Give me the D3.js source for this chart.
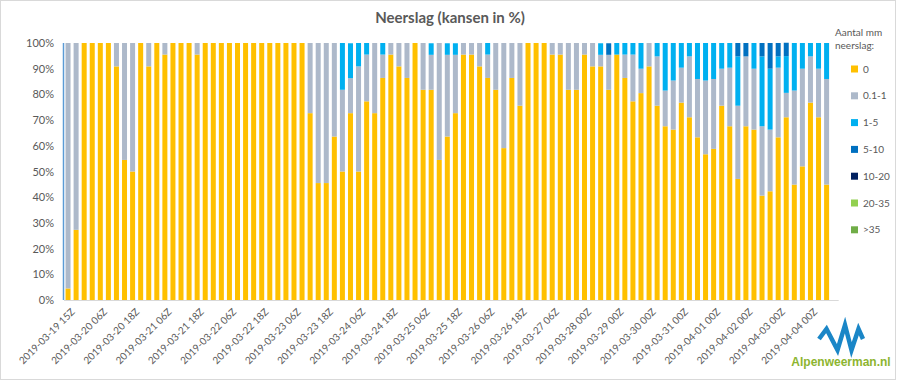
<!DOCTYPE html>
<html>
<head>
<meta charset="utf-8">
<script src="https://cdn.jsdelivr.net/npm/d3@7"></script>
<style>
  html, body { margin: 0; padding: 0; background: #fff; }
  svg { display: block; font-family: Lato, "Open Sans", sans-serif; }
</style>
</head>
<body>
<svg id="chart" width="900" height="381"></svg>
<script>
// ---------- DATA ----------
const categories = [
  "2019-03-19 15Z","2019-03-19 21Z","2019-03-20 00Z","2019-03-20 03Z",
  "2019-03-20 06Z","2019-03-20 09Z","2019-03-20 12Z","2019-03-20 15Z",
  "2019-03-20 18Z","2019-03-20 21Z","2019-03-21 00Z","2019-03-21 03Z",
  "2019-03-21 06Z","2019-03-21 09Z","2019-03-21 12Z","2019-03-21 15Z",
  "2019-03-21 18Z","2019-03-21 21Z","2019-03-22 00Z","2019-03-22 03Z",
  "2019-03-22 06Z","2019-03-22 09Z","2019-03-22 12Z","2019-03-22 15Z",
  "2019-03-22 18Z","2019-03-22 21Z","2019-03-23 00Z","2019-03-23 03Z",
  "2019-03-23 06Z","2019-03-23 09Z","2019-03-23 12Z","2019-03-23 15Z",
  "2019-03-23 18Z","2019-03-23 21Z","2019-03-24 00Z","2019-03-24 03Z",
  "2019-03-24 06Z","2019-03-24 09Z","2019-03-24 12Z","2019-03-24 15Z",
  "2019-03-24 18Z","2019-03-24 21Z","2019-03-25 00Z","2019-03-25 03Z",
  "2019-03-25 06Z","2019-03-25 09Z","2019-03-25 12Z","2019-03-25 15Z",
  "2019-03-25 18Z","2019-03-25 21Z","2019-03-26 00Z","2019-03-26 03Z",
  "2019-03-26 06Z","2019-03-26 09Z","2019-03-26 12Z","2019-03-26 15Z",
  "2019-03-26 18Z","2019-03-26 21Z","2019-03-27 00Z","2019-03-27 03Z",
  "2019-03-27 06Z","2019-03-27 09Z","2019-03-27 12Z","2019-03-27 18Z",
  "2019-03-28 00Z","2019-03-28 06Z","2019-03-28 12Z","2019-03-28 18Z",
  "2019-03-29 00Z","2019-03-29 06Z","2019-03-29 12Z","2019-03-29 18Z",
  "2019-03-30 00Z","2019-03-30 06Z","2019-03-30 12Z","2019-03-30 18Z",
  "2019-03-31 00Z","2019-03-31 06Z","2019-03-31 12Z","2019-03-31 18Z",
  "2019-04-01 00Z","2019-04-01 06Z","2019-04-01 12Z","2019-04-01 18Z",
  "2019-04-02 00Z","2019-04-02 06Z","2019-04-02 12Z","2019-04-02 18Z",
  "2019-04-03 00Z","2019-04-03 06Z","2019-04-03 12Z","2019-04-03 18Z",
  "2019-04-04 00Z","2019-04-04 06Z","2019-04-04 12Z","2019-04-04 18Z"
];
// shown tick labels (every 4th category)
const tickLabels = [
  "2019-03-19 15Z","2019-03-20 06Z","2019-03-20 18Z","2019-03-21 06Z","2019-03-21 18Z",
  "2019-03-22 06Z","2019-03-22 18Z","2019-03-23 06Z","2019-03-23 18Z","2019-03-24 06Z",
  "2019-03-24 18Z","2019-03-25 06Z","2019-03-25 18Z","2019-03-26 06Z","2019-03-26 18Z",
  "2019-03-27 06Z","2019-03-28 00Z","2019-03-29 00Z","2019-03-30 00Z","2019-03-31 00Z",
  "2019-04-01 00Z","2019-04-02 00Z","2019-04-03 00Z","2019-04-04 00Z"
];
const seriesNames = ["0","0.1-1","1-5","5-10","10-20","20-35",">35"];

// probabilities in %
const p0 = [
  4.5,27.3,100,100,100,100,90.9,54.5,50,100,90.9,100,95.5,100,100,100,
  95.5,100,100,100,100,100,100,100,100,100,100,100,100,100,72.7,45.5,
  45.5,63.6,50,72.7,50,77.3,72.7,86.4,95.5,90.9,86.4,100,81.8,81.8,54.5,63.6,
  72.7,95.5,95.5,90.9,86.4,81.8,59.1,86.4,75.6,100,100,100,95.5,95.5,81.8,81.8,
  95.5,90.9,90.9,81.8,95.5,86.4,77.3,80.5,90.9,75.6,67.6,66.3,76.8,71.1,63.3,56.7,
  58.8,75.6,67.6,47.1,67.6,66.3,40.6,42.3,63.3,71.1,44.9,52,76.8,71.1,44.9,0
];
const p01_1 = [
  95.5,72.7,0,0,0,0,9.1,45.5,50,0,9.1,0,4.5,0,0,0,
  4.5,0,0,0,0,0,0,0,0,0,0,0,0,0,27.3,54.5,
  54.5,36.4,31.8,13.6,40.9,18.2,27.3,9.1,4.5,9.1,13.6,0,18.2,13.6,45.5,31.8,
  22.7,4.5,4.5,9.1,9.1,18.2,40.9,13.6,24.4,0,0,0,4.5,4.5,18.2,18.2,
  4.5,9.1,4.5,13.6,0,9.1,18.2,9.5,9.1,19.2,13.9,19.1,13.6,23.7,22.7,28.7,
  27.2,14.4,22.8,28.5,27.2,23.7,27,24,27.1,9.5,36.6,38,18,18.9,41.1,0
];
const p1_5 = [
  0,0,0,0,0,0,0,0,0,0,0,0,0,0,0,0,
  0,0,0,0,0,0,0,0,0,0,0,0,0,0,0,0,
  0,0,18.2,13.6,9.1,4.5,0,4.5,0,0,0,0,0,4.5,0,4.5,
  4.5,0,0,0,4.5,0,0,0,0,0,0,0,0,0,0,0,
  0,0,4.5,0,4.5,4.5,4.5,10,0,5.2,18.5,14.6,9.6,5.2,14,14.6,
  14,10,9.6,19.2,0,10,27.2,23.7,4.4,14.3,18.5,10,5.2,10,14,0
];
const p5_10 = [
  0,0,0,0,0,0,0,0,0,0,0,0,0,0,0,0,
  0,0,0,0,0,0,0,0,0,0,0,0,0,0,0,0,
  0,0,0,0,0,0,0,0,0,0,0,0,0,0,0,0,
  0,0,0,0,0,0,0,0,0,0,0,0,0,0,0,0,
  0,0,0,4.5,0,0,0,0,0,0,0,0,0,0,0,0,
  0,0,0,5.2,5.2,0,5.2,10,5.2,5.2,0,0,0,0,0,0
];
const p10_20 = new Array(96).fill(0);
const p20_35 = new Array(96).fill(0);
const p35 = new Array(96).fill(0);

const yTicks = [0,10,20,30,40,50,60,70,80,90,100];
const colors = ["#FFC000","#ADB9CA","#00B0F0","#0070C0","#002060","#92D050","#70AD47"];

// ---------- BUILD ----------
const seriesArrays = [p0,p01_1,p1_5,p5_10,p10_20,p20_35,p35];
const rows = categories.map((c,i) => {
  const r = {cat: c};
  seriesNames.forEach((s,k) => r[s] = seriesArrays[k][i]);
  return r;
});

const svg = d3.select("#chart");
const textColor = "#595959";

// outer border
svg.append("rect").attr("x",0.5).attr("y",0.5).attr("width",895).attr("height",379)
  .attr("fill","#fff").attr("stroke","#D9D9D9");

const x0 = 64, x1 = 838.7, yTop = 43, yBot = 300;
const x = d3.scaleBand().domain(categories).range([x0, x1]).paddingInner(0.38).paddingOuter(0.19);
const y = d3.scaleLinear().domain([0,100]).range([yBot, yTop]);

// title
svg.append("text").attr("x", 450).attr("y", 23).attr("text-anchor","middle")
  .attr("font-size", 15).attr("font-weight","bold").attr("fill", textColor)
  .text("Neerslag (kansen in %)");

// stacked bars
const stack = d3.stack().keys(seriesNames)(rows);
svg.append("g").selectAll("g").data(stack).join("g")
  .attr("fill", (d,i) => colors[i])
  .selectAll("rect").data(d => d).join("rect")
  .attr("x", d => x(d.data.cat))
  .attr("width", x.bandwidth())
  .attr("y", d => y(d[1]))
  .attr("height", d => Math.max(0, y(d[0]) - y(d[1])));

// y axis
const yAxis = d3.axisLeft(y).tickValues(yTicks).tickFormat(d => d + "%").tickSize(0).tickPadding(10);
const gy = svg.append("g").attr("transform", `translate(${x0},0)`).call(yAxis);
gy.select(".domain").remove();
gy.selectAll("text").attr("fill", textColor).attr("font-size", 11).attr("font-family","Lato, sans-serif");
svg.append("line").attr("x1", x0 - 0.5).attr("x2", x0 - 0.5).attr("y1", yTop).attr("y2", yBot)
  .attr("stroke", "#5B9BD5").attr("stroke-width", 1.5);

// x baseline
svg.append("line").attr("x1", x0).attr("x2", x1).attr("y1", yBot + 0.5).attr("y2", yBot + 0.5)
  .attr("stroke", "#D9D9D9").attr("stroke-width", 1);

// x axis labels
const xAxis = d3.axisBottom(x).tickValues(tickLabels).tickSize(0).tickPadding(0);
const gx = svg.append("g").attr("transform", `translate(0,${yBot})`).call(xAxis);
gx.select(".domain").remove();
gx.selectAll("text")
  .attr("fill", textColor).attr("font-size", 10).attr("font-family","Lato, sans-serif")
  .attr("text-anchor","end")
  .attr("transform","translate(5,10) rotate(-45)")
  .attr("dy","0.35em").attr("y", 0).attr("x", 0);

// legend
const leg = svg.append("g");
leg.append("text").attr("x", 835).attr("y", 36).attr("font-size", 10).attr("fill", textColor).text("Aantal mm");
leg.append("text").attr("x", 835).attr("y", 49).attr("font-size", 10).attr("fill", textColor).text("neerslag:");
seriesNames.forEach((s,i) => {
  const cy = 69 + i * 26.8;
  leg.append("rect").attr("x", 851).attr("y", cy - 3.5).attr("width", 7).attr("height", 7).attr("fill", colors[i]);
  leg.append("text").attr("x", 863).attr("y", cy).attr("dy","0.35em").attr("font-size", 10)
    .attr("fill", textColor).text(s);
});

// logo
const logo = svg.append("g");
logo.append("path")
  .attr("d","M819,339 L826.5,329 L837.5,350 L845,325 L851.5,350 L858.5,329 L863,339")
  .attr("fill","none").attr("stroke","#1A86C7").attr("stroke-width",4.5).attr("stroke-linejoin","miter");
logo.append("text").attr("x", 841).attr("y", 366).attr("text-anchor","middle")
  .attr("font-size", 12).attr("font-weight","bold").attr("fill","#8DB530")
  .attr("font-family","Liberation Sans, Arial, sans-serif").text("Alpenweerman.nl");
</script>
</body>
</html>
